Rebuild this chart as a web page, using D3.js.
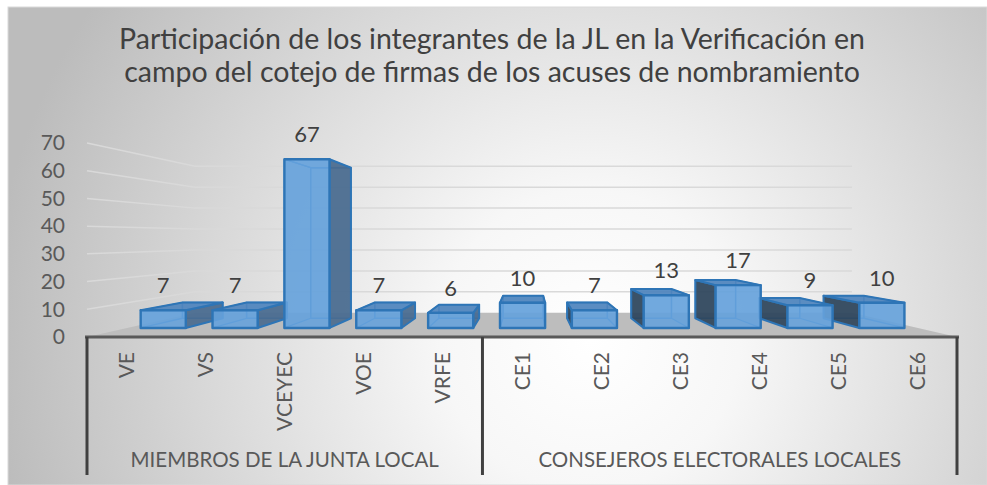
<!DOCTYPE html>
<html>
<head>
<meta charset="utf-8">
<script src="https://cdn.jsdelivr.net/npm/d3@7"></script>
<style>
  body { margin: 0; background: #fff; }
  text { font-family: Lato, "Open Sans", sans-serif; }
</style>
</head>
<body>
<svg id="chart" width="987" height="485"></svg>
<script>
const titleLines = ["Participación de los integrantes de la JL en la Verificación en",
                    "campo del cotejo de firmas de los acuses de nombramiento"];
const categories = ["VE", "VS", "VCEYEC", "VOE", "VRFE", "CE1", "CE2", "CE3", "CE4", "CE5", "CE6"];
const values = [7, 7, 67, 7, 6, 10, 7, 13, 17, 9, 10];
const groupNames = ["MIEMBROS DE LA JUNTA LOCAL", "CONSEJEROS ELECTORALES LOCALES"];
const groupCounts = [5, 6];
const yTicks = [0, 10, 20, 30, 40, 50, 60, 70];

const svg = d3.select("#chart");

// background of the chart area (light radial shading like the original)
const defs = svg.append("defs");
const grad = defs.append("radialGradient")
    .attr("id", "bg")
    .attr("gradientUnits", "userSpaceOnUse")
    .attr("cx", 590).attr("cy", 340).attr("r", 600);
grad.append("stop").attr("offset", "0%").attr("stop-color", "#ffffff");
grad.append("stop").attr("offset", "25%").attr("stop-color", "#f7f7f7");
grad.append("stop").attr("offset", "100%").attr("stop-color", "#bcbcbc");

svg.append("rect")
    .attr("x", 8).attr("y", 7)
    .attr("width", 979).attr("height", 478)
    .attr("fill", "url(#bg)")
    .attr("stroke", "#d9d9d9");

// front plane scales
const x = d3.scaleBand().domain(categories).range([87, 957]);
const y = d3.scaleLinear().domain([0, 70]).range([337, 143]);
const [xL, xR] = x.range();

// a small perspective: z = 0 is the front of the floor, z = 1 the back wall
const vanish = [528, 238];
const k = 0.3245;
function proj(xf, v, z) {
    const s = 1 / (1 + k * z);
    return [vanish[0] + s * (xf - vanish[0]), vanish[1] + s * (y(v) - vanish[1])];
}

// wall gridlines (side wall + back wall)
const grid = svg.append("g");
yTicks.filter(t => t > 0).forEach(t => {
    grid.append("polyline")
        .attr("points", [proj(xL, t, 0), proj(xL, t, 1), proj(xR, t, 1)].join(" "))
        .attr("fill", "none")
        .attr("stroke", "#d9d9d9")
        .attr("stroke-width", 1.5);
});

// floor
svg.append("polygon")
    .attr("points", [proj(xL, 0, 0), proj(xR, 0, 0), proj(xR, 0, 1), proj(xL, 0, 1)].join(" "))
    .attr("fill", "#bdbdbd");

// bars
const half = x.bandwidth() * 0.314;
const zFront = 0.31, zBack = 0.72;

let bars = categories.map((c, i) => ({ cat: c, value: values[i], cx: x(c) + x.bandwidth() / 2 }));
// outer bars first so the bars nearer the centre cover their sides
bars.sort((a, b) => Math.abs(b.cx - vanish[0]) - Math.abs(a.cx - vanish[0]));

const barLayer = svg.append("g");

function face(pts, fill, opacity, stroke, sw) {
    barLayer.append("polygon")
        .attr("points", pts.join(" "))
        .attr("fill", fill)
        .attr("fill-opacity", opacity)
        .attr("stroke", stroke)
        .attr("stroke-width", sw)
        .attr("stroke-linejoin", "round");
}

bars.forEach(d => {
    const l = d.cx - half, r = d.cx + half, v = d.value;
    const fbl = proj(l, 0, zFront), fbr = proj(r, 0, zFront), ftr = proj(r, v, zFront), ftl = proj(l, v, zFront);
    const bbl = proj(l, 0, zBack), bbr = proj(r, 0, zBack), btr = proj(r, v, zBack), btl = proj(l, v, zBack);

    const leftSide = [fbl, bbl, btl, ftl];
    const rightSide = [fbr, bbr, btr, ftr];
    const top = [ftl, ftr, btr, btl];

    const showLeft = l > vanish[0];
    const showRight = r < vanish[0];
    const showTop = y(v) > vanish[1];

    // hidden faces, seen through the transparent bar
    face([bbl, bbr, btr, btl], "#5b9bd5", 0.35, "#3d84c8", 1.3);
    if (!showLeft) face(leftSide, "#5b9bd5", 0.25, "#3d84c8", 1.3);
    if (!showRight) face(rightSide, "#5b9bd5", 0.25, "#3d84c8", 1.3);
    if (!showTop) face(top, "#5b9bd5", 0.25, "#3d84c8", 1.3);

    // visible faces
    if (showLeft) face(leftSide, "#2c4258", 0.9, "#2e75b6", 2);
    if (showRight) face(rightSide, "#48698d", 0.9, "#2e75b6", 2);
    if (showTop) face(top, "#4f84bc", 0.9, "#2e75b6", 2);
    face([fbl, fbr, ftr, ftl], "#65a2dc", 0.88, "#2e75b6", 2.4);
});

// data labels
svg.append("g")
    .selectAll("text")
    .data(bars)
    .join("text")
    .attr("x", d => proj(d.cx, d.value, zFront)[0])
    .attr("y", d => proj(d.cx, d.value, zFront)[1] - 17)
    .attr("text-anchor", "middle")
    .attr("font-size", 22)
    .attr("fill", "#404040")
    .text(d => d.value);

// value axis
const yAxis = svg.append("g")
    .attr("transform", "translate(70,0)")
    .call(d3.axisLeft(y).tickValues(yTicks).tickSize(0).tickPadding(5));
yAxis.select(".domain").remove();
yAxis.selectAll("text")
    .attr("font-size", 21)
    .attr("fill", "#595959");

// category axis
svg.append("line")
    .attr("x1", xL - 2).attr("x2", xR + 2)
    .attr("y1", y(0)).attr("y2", y(0))
    .attr("stroke", "#595959")
    .attr("stroke-width", 3);

let starts = [0];
groupCounts.forEach((n, i) => starts.push(starts[i] + n));
const bounds = starts.map(i => i < categories.length ? x(categories[i]) : xR);

svg.append("g")
    .selectAll("line")
    .data(bounds)
    .join("line")
    .attr("x1", d => d).attr("x2", d => d)
    .attr("y1", y(0)).attr("y2", 475)
    .attr("stroke", "#404040")
    .attr("stroke-width", 3);

svg.append("g")
    .selectAll("text")
    .data(categories)
    .join("text")
    .attr("transform", d => `translate(${x(d) + x.bandwidth() / 2},352) rotate(-90)`)
    .attr("text-anchor", "end")
    .attr("dy", "0.36em")
    .attr("font-size", 21)
    .attr("fill", "#595959")
    .text(d => d);

svg.append("g")
    .selectAll("text")
    .data(groupNames)
    .join("text")
    .attr("x", (d, i) => (bounds[i] + bounds[i + 1]) / 2)
    .attr("y", 467)
    .attr("text-anchor", "middle")
    .attr("font-size", 20.5)
    .attr("fill", "#595959")
    .text(d => d);

// title
svg.append("g")
    .selectAll("text")
    .data(titleLines)
    .join("text")
    .attr("x", 492)
    .attr("y", (d, i) => 49 + i * 33)
    .attr("text-anchor", "middle")
    .attr("font-size", 28.5)
    .attr("fill", "#404040")
    .text(d => d);
</script>
</body>
</html>
